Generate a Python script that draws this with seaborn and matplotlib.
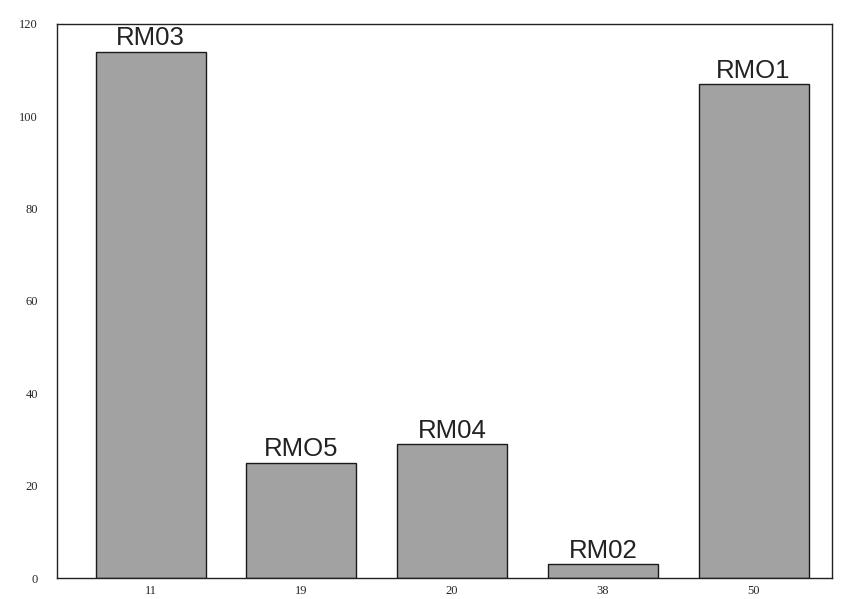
import matplotlib
matplotlib.use("Agg")
import pandas as pd
import seaborn as sns
import matplotlib.pyplot as plt

# values
categories = ["11", "19", "20", "38", "50"]
values = [114, 25, 29, 3, 107]
bar_labels = ["RM03", "RMO5", "RM04", "RM02", "RMO1"]

df = pd.DataFrame({"group": categories, "count": values})

sns.set_style("white")
fig = plt.figure(figsize=(8.42, 5.99), dpi=100)
ax = fig.add_axes([0.068, 0.035, 0.92, 0.925])

sns.barplot(data=df, x="group", y="count", order=categories, color="#a2a2a2",
            saturation=1, width=0.73, edgecolor="#1a1a1a", linewidth=1.0, ax=ax)

# bar labels above each bar
for i, (v, lab) in enumerate(zip(values, bar_labels)):
    ax.text(i, v + 0.3, lab, ha="center", va="bottom", fontsize=18.5,
            family="Liberation Sans", color="#222222")

ax.set_xlim(-0.62, 4.52)
ax.set_ylim(0, 120)
ax.set_yticks(range(0, 121, 20))
ax.set_xlabel("")
ax.set_ylabel("")
ax.tick_params(axis="y", direction="in", length=6, pad=14, labelsize=9)
ax.tick_params(axis="x", length=0, pad=5, labelsize=9)
for lab in ax.get_xticklabels() + ax.get_yticklabels():
    lab.set_family("Liberation Serif")
for s in ax.spines.values():
    s.set_visible(True)
    s.set_color("#222222")
    s.set_linewidth(1.0)

plt.savefig("out.png", dpi=100)
plt.close()
